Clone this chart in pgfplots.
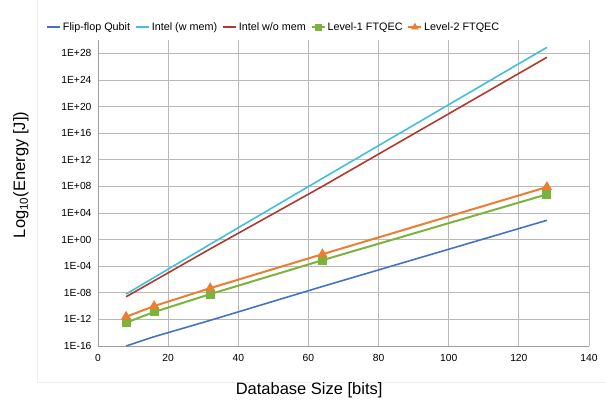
\documentclass[border=0pt]{standalone}
\usepackage{fontspec}
\setmainfont{Liberation Sans}
\usepackage{pgfplots}
\pgfplotsset{compat=1.18}
\definecolor{cflip}{RGB}{68,114,196}
\definecolor{cintelw}{RGB}{64,192,220}
\definecolor{cintelwo}{RGB}{180,56,44}
\definecolor{cl1}{RGB}{122,180,60}
\definecolor{cl2}{RGB}{237,125,49}
\begin{document}
\begin{tikzpicture}[x=1pt,y=1pt]
\path[use as bounding box] (-98,-62) rectangle (508,346);
\draw[gray!12, line width=0.8pt] (-61,346) -- (-61,-36) -- (508,-36);
\begin{axis}[at={(0,0)}, anchor=south west, scale only axis,
  width=491pt, height=306pt,
  xmin=0, xmax=140, xtick={0,20,...,140},
  ymode=log, ymin=1e-16, ymax=1e30,
  ytick={1e-16,1e-12,1e-8,1e-4,1,1e4,1e8,1e12,1e16,1e20,1e24,1e28},
  yticklabels={1E-16,1E-12,1E-08,1E-04,1E+00,1E+04,1E+08,1E+12,1E+16,1E+20,1E+24,1E+28},
  axis x line*=bottom, axis y line*=left,
  axis line style={draw=gray!75, line width=0.8pt, -},
  grid=major, major grid style={gray!55, line width=0.8pt},
  tick style={draw=none},
  ticklabel style={font=\fontsize{10.3}{12}\selectfont},
  xticklabel style={yshift=-5pt},
  yticklabel style={xshift=-3pt},
  /pgf/number format/assume math mode=true,
  xlabel={Database Size [bits]},
  ylabel={Log\textsubscript{10}(Energy [J])},
  xlabel style={font=\fontsize{16.5}{18}\selectfont, at={(axis description cs:0.43,-0.144)}, anchor=center},
  ylabel style={font=\fontsize{16.5}{18}\selectfont, at={(axis description cs:-0.157,0.559)}, anchor=center},
  legend image code/.code={\draw[#1, line width=1.6pt] (0pt,0pt) -- (13pt,0pt);
     \path[#1, mark size=2.5pt] plot coordinates {(6.5pt,0pt)};},
  legend style={at={(axis description cs:0.358,1.042)}, anchor=center, draw=none,
    font=\fontsize{10.8}{12}\selectfont,
    /tikz/every even column/.append style={column sep=3pt}},
  legend columns=5,
  legend cell align=left,
]
\addplot[cflip, line width=1.6pt, mark=none] coordinates {
 (8,1e-16) (16,2.5e-15) (32,7.2e-13) (64,8.9e-8) (128,7.9e2)};
\addlegendentry{Flip-flop Qubit}
\addplot[cintelw, line width=1.6pt, mark=none] coordinates {
 (8,6.3e-9) (16,2.0e-6) (32,2.0e-1) (64,1.6e9) (128,7.9e28)};
\addlegendentry{Intel (w mem)}
\addplot[cintelwo, line width=1.6pt, mark=none] coordinates {
 (8,2.5e-9) (16,6.3e-7) (32,4.0e-2) (64,1.0e8) (128,2.5e27)};
\addlegendentry{Intel w/o mem}
\addplot[cl1, line width=2pt, mark=square*, mark size=3.5pt] coordinates {
 (8,3.2e-13) (16,1.3e-11) (32,6.3e-9) (64,7.9e-4) (128,6.3e6)};
\addlegendentry{Level-1 FTQEC}
\addplot[cl2, line width=2pt, mark=triangle*, mark size=4pt] coordinates {
 (8,2.5e-12) (16,1.0e-10) (32,5.0e-8) (64,6.3e-3) (128,7.9e7)};
\addlegendentry{Level-2 FTQEC}
\end{axis}
\end{tikzpicture}
\end{document}
